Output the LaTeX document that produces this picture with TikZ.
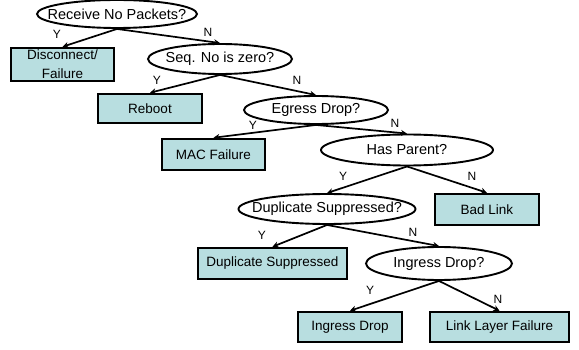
\documentclass[tikz,border=0pt]{standalone}
\usepackage{fontspec}
\setmainfont{Liberation Sans}
\usetikzlibrary{shapes.geometric,arrows.meta}
\definecolor{boxfill}{HTML}{B8DEE0}
\begin{document}
\begin{tikzpicture}[x=1pt,y=-1pt,
  dec/.style={ellipse, draw, line width=1.9pt, inner xsep=-30pt, inner ysep=-2pt, font=\fontsize{14.5}{17}\selectfont},
  leaf/.style={rectangle, draw, fill=boxfill, line width=2.5pt, inner sep=0pt, font=\fontsize{13.5}{19}\selectfont, align=center},
  conn/.style={line width=1.7pt, -{Stealth[length=6pt,width=6pt]}},
  lbl/.style={font=\fontsize{12}{13}\selectfont, inner sep=0pt}]
\useasboundingbox (0,0) rectangle (579,350);
% decisions
\node[dec, minimum width=160pt, minimum height=28pt] (q1) at (117,14) {Receive No Packets?};
\node[dec, minimum width=144pt, minimum height=30pt] (q2) at (220,59) {Seq. No is zero?};
\node[dec, minimum width=144pt, minimum height=28pt] (q3) at (316,110) {Egress Drop?};
\node[dec, minimum width=172pt, minimum height=31pt] (q4) at (407,150) {Has Parent?};
\node[dec, minimum width=177pt, minimum height=30pt] (q5) at (327,209) {Duplicate Suppressed?};
\node[dec, minimum width=146pt, minimum height=33pt] (q6) at (439,263.5) {Ingress Drop?};
% leaves
\node[leaf, minimum width=103pt, minimum height=33pt] (l1) at (62.5,64.5) {Disconnect/\\Failure};
\node[leaf, minimum width=104pt, minimum height=29pt] (l2) at (150,108.5) {Reboot};
\node[leaf, minimum width=103pt, minimum height=31pt] (l3) at (213.5,154.5) {MAC Failure};
\node[leaf, minimum width=104pt, minimum height=31pt] (l4) at (487,209.5) {Bad Link};
\node[leaf, minimum width=149pt, minimum height=31pt] (l5) at (272.5,263.5) {Duplicate Suppressed};
\node[leaf, minimum width=104pt, minimum height=30pt] (l6) at (350,327) {Ingress Drop};
\node[leaf, minimum width=139pt, minimum height=30pt] (l7) at (499.5,327) {Link Layer Failure};
% connectors
\draw[conn] (q1.south) -- (l1.north);
\draw[conn] (q1.south) -- (q2.north);
\draw[conn] (q2.south) -- (l2.north);
\draw[conn] (q2.south) -- (q3.north);
\draw[conn] (q3.south) -- (l3.north);
\draw[conn] (q3.south) -- (q4.north);
\draw[conn] (q4.south) -- (q5.north);
\draw[conn] (q4.south) -- (l4.north);
\draw[conn] (q5.south) -- (l5.north);
\draw[conn] (q5.south) -- (q6.north);
\draw[conn] (q6.south) -- (l6.north);
\draw[conn] (q6.south) -- (l7.north);
% labels
\node[lbl] (y1) at (57,34) {Y};
\node[lbl] (n1) at (208,32) {N};
\node[lbl] (y2) at (157,80) {Y};
\node[lbl] (n2) at (297,80) {N};
\node[lbl] (y3) at (253,125) {Y};
\node[lbl] (n3) at (395,123) {N};
\node[lbl] (y4) at (343,176) {Y};
\node[lbl] (n4) at (472,176) {N};
\node[lbl] (y5) at (262,235) {Y};
\node[lbl] (n5) at (413,232) {N};
\node[lbl] (y6) at (370,290) {Y};
\node[lbl] (n6) at (498,299) {N};
\end{tikzpicture}
\end{document}
